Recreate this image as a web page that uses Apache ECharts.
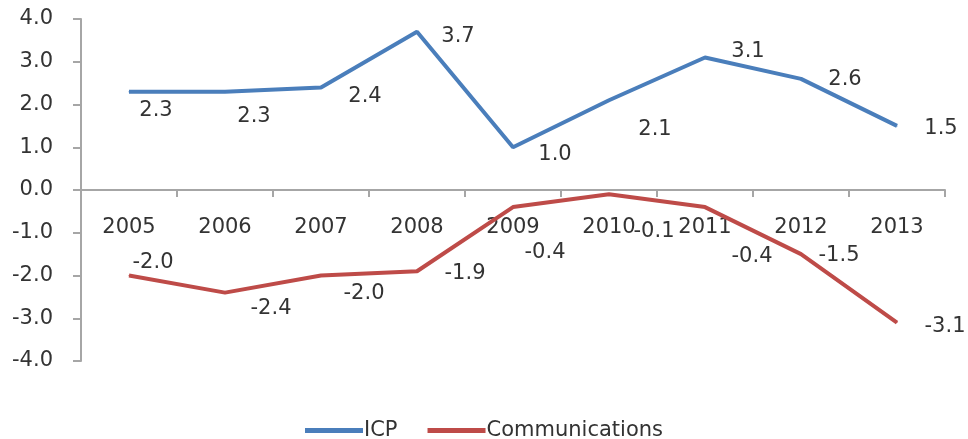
<!DOCTYPE html>
<html>
<head>
<meta charset="utf-8">
<script src="https://cdn.jsdelivr.net/npm/echarts@6/dist/echarts.min.js"></script>
<style>
  html, body { margin: 0; padding: 0; background: #fff; }
  #chart { width: 968px; height: 439px; }
</style>
</head>
<body>
<div id="chart"></div>
<script>
var years = ['2005', '2006', '2007', '2008', '2009', '2010', '2011', '2012', '2013']
var icp = [2.3, 2.3, 2.4, 3.7, 1.0, 2.1, 3.1, 2.6, 1.5]
var communications = [-2.0, -2.4, -2.0, -1.9, -0.4, -0.1, -0.4, -1.5, -3.1]
var yTicks = [-4, -3, -2, -1, 0, 1, 2, 3, 4]

// label offsets, Excel put the labels all over the place
var icpLabelOffsets = [[27, 19], [29, 25], [44, 9], [41, 5], [42, 7], [46, 29], [43, -6], [44, 1], [44, 3]]
var commLabelOffsets = [[24, -13], [46, 16], [43, 18], [48, 2], [32, 45], [45, 37], [47, 49], [38, 1], [48, 4]]

var font = 'DejaVu Sans'
var textColor = '#333'
var gridTop = 19
var gridBottom = 78
var chartHeight = 439

function withLabels (values, offsets) {
  return values.map(function (v, i) {
    return { value: v, label: { offset: offsets[i] } }
  })
}

// category axis sits on the zero line (middle of the -4..4 range)
var zeroOffset = -(chartHeight - gridTop - gridBottom) / 2

var chart = echarts.init(document.getElementById('chart'))
chart.setOption({
  animation: false,
  grid: { left: 81, right: 23, top: gridTop, bottom: gridBottom },
  legend: {
    left: 300,
    top: 415,
    itemWidth: 58,
    itemHeight: 5,
    itemGap: 30,
    icon: 'rect',
    textStyle: { fontFamily: font, fontSize: 21, color: textColor, padding: [0, 0, 0, -4] },
    data: ['ICP', 'Communications']
  },
  xAxis: {
    type: 'category',
    data: years,
    boundaryGap: true,
    offset: zeroOffset,
    axisLine: { onZero: false, lineStyle: { color: '#a6a6a6', width: 2 } },
    axisTick: { show: true, length: 7, lineStyle: { color: '#a6a6a6', width: 2 } },
    axisLabel: { fontFamily: font, fontSize: 21, color: textColor, margin: 27 },
    splitLine: { show: false }
  },
  yAxis: {
    type: 'value',
    min: yTicks[0],
    max: yTicks[yTicks.length - 1],
    interval: 1,
    axisLine: { show: true, lineStyle: { color: '#a6a6a6', width: 2 } },
    axisTick: { show: true, length: 8, lineStyle: { color: '#a6a6a6', width: 2 } },
    axisLabel: {
      fontFamily: font,
      fontSize: 21,
      color: textColor,
      margin: 28,
      formatter: function (v) { return v.toFixed(1) }
    },
    splitLine: { show: false }
  },
  series: [
    {
      name: 'ICP',
      type: 'line',
      data: withLabels(icp, icpLabelOffsets),
      symbol: 'circle',
      symbolSize: 1,
      lineStyle: { color: '#4a7ebb', width: 4 },
      itemStyle: { color: '#4a7ebb' },
      label: {
        show: true,
        position: 'inside',
        fontFamily: font,
        fontSize: 21,
        color: textColor,
        formatter: function (p) { return p.value.toFixed(1) }
      }
    },
    {
      name: 'Communications',
      type: 'line',
      data: withLabels(communications, commLabelOffsets),
      symbol: 'circle',
      symbolSize: 1,
      lineStyle: { color: '#be4b48', width: 4 },
      itemStyle: { color: '#be4b48' },
      label: {
        show: true,
        position: 'inside',
        fontFamily: font,
        fontSize: 21,
        color: textColor,
        formatter: function (p) { return p.value.toFixed(1) }
      }
    }
  ]
})
</script>
</body>
</html>
